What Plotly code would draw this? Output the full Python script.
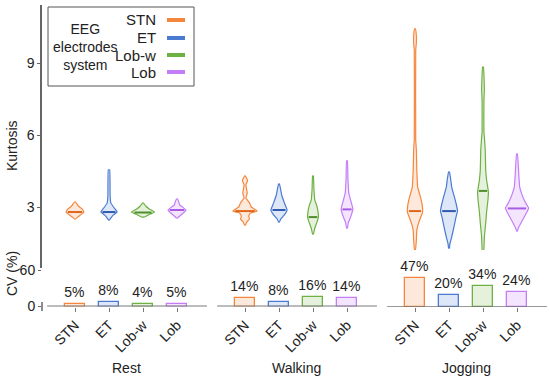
import numpy as np
import plotly.graph_objects as go

# ---------------- data ----------------
conditions = ["Rest", "Walking", "Jogging"]
electrodes = ["STN", "ET", "Lob-w", "Lob"]

# coefficient of variation (%) per electrode system
cv_rest = [5, 8, 4, 5]
cv_walking = [14, 8, 16, 14]
cv_jogging = [47, 20, 34, 24]

# violin profiles: kurtosis levels (top -> bottom) and relative density (half width)
k_rest_stn = [3.21, 3.08, 3.0, 2.92, 2.79, 2.67, 2.58, 2.5]
d_rest_stn = [0.5, 3, 5, 8, 10, 6, 3, 0.5]
k_rest_et = [4.54, 3.5, 3.17, 3.0, 2.83, 2.79, 2.67, 2.54, 2.46]
d_rest_et = [0.8, 1.2, 2, 5, 8.5, 9, 5, 2, 0.5]
k_rest_lobw = [3.17, 3.04, 2.92, 2.79, 2.67, 2.58]
d_rest_lobw = [0.5, 3, 7, 13, 6, 1]
k_rest_lob = [3.33, 3.21, 3.08, 3.0, 2.875, 2.75, 2.625, 2.54]
d_rest_lob = [0.5, 2, 3, 6, 10, 7, 3, 0.5]

k_walk_stn = [4.29, 4.1, 3.92, 3.58, 3.375, 3.17, 3.0, 2.83, 2.75, 2.625, 2.5, 2.375, 2.25]
d_walk_stn = [0.5, 3, 1, 2.5, 1, 5, 7, 13.5, 6, 4, 5, 2, 0.5]
k_walk_et = [3.96, 3.5, 3.17, 2.875, 2.67, 2.5, 2.375]
d_walk_et = [0.5, 3, 6, 9, 6, 2, 0.5]
k_walk_lobw = [4.29, 3.75, 3.29, 3.08, 2.83, 2.58, 2.33, 2.125, 1.875]
d_walk_lobw = [0.5, 1, 2, 4, 5.5, 6, 4, 2, 0.5]
k_walk_lob = [4.92, 4.2, 3.58, 3.29, 2.92, 2.58, 2.35, 2.125]
d_walk_lob = [0.5, 1, 2, 4, 6.5, 4, 1.5, 0.5]

k_jog_stn = [10.42, 10.125, 9.83, 9.54, 5.79, 5.375, 4.54, 3.83, 3.42, 3.08, 2.79, 2.54, 2.33, 2.04, 1.625, 1.21]
d_jog_stn = [0.5, 1.5, 1.5, 0.8, 0.8, 1.5, 2, 3, 6, 8, 8.5, 6, 4, 2, 1.5, 0.5]
k_jog_et = [4.46, 4.125, 3.83, 3.42, 3.125, 2.83, 2.54, 2.25, 1.75, 1.46, 1.29]
d_jog_et = [0.5, 2, 3, 6, 8, 9.5, 7.5, 6, 3, 1, 0.5]
k_jog_lobw = [8.83, 7.875, 7.46, 6.125, 5.92, 5.375, 4.54, 4.125, 3.625, 3.29, 2.79, 2.33, 1.75, 1.21, 0.92]
d_jog_lobw = [0.5, 1.5, 1, 1, 1.5, 2.5, 3, 4, 6, 5.5, 4, 3, 1.5, 1, 0.5]
k_jog_lob = [5.21, 4.33, 3.83, 3.58, 3.29, 3.08, 2.96, 2.79, 2.58, 2.375, 2.125, 2.0]
d_jog_lob = [0.5, 2, 3, 5, 8, 11, 13, 11, 8, 5, 1.5, 0.5]

median_rest = [2.79, 2.79, 2.77, 2.875]
median_walking = [2.83, 2.875, 2.58, 2.9]
median_jogging = [2.83, 2.83, 3.67, 2.94]

# ---------------- styling ----------------
FONT = "Arial, Liberation Sans, sans-serif"
line_colors = ["#F5873D", "#4A7BD1", "#6DB043", "#C47DF8"]
fill_colors = ["rgba(245,135,61,0.18)", "rgba(74,123,209,0.18)",
               "rgba(109,176,67,0.18)", "rgba(196,125,248,0.20)"]
median_colors = ["#E0661A", "#2F5BB0", "#4F8F2C", "#A95BE6"]
W, H = 550, 379
DSCALE = 0.9 / 34.0   # density -> x units

profiles = [
    [(k_rest_stn, d_rest_stn), (k_rest_et, d_rest_et), (k_rest_lobw, d_rest_lobw), (k_rest_lob, d_rest_lob)],
    [(k_walk_stn, d_walk_stn), (k_walk_et, d_walk_et), (k_walk_lobw, d_walk_lobw), (k_walk_lob, d_walk_lob)],
    [(k_jog_stn, d_jog_stn), (k_jog_et, d_jog_et), (k_jog_lobw, d_jog_lobw), (k_jog_lob, d_jog_lob)],
]
medians = [median_rest, median_walking, median_jogging]
cvs = [cv_rest, cv_walking, cv_jogging]

fig = go.Figure()

all_pos, all_lab = [], []
for gi, cond in enumerate(conditions):
    for ei, el in enumerate(electrodes):
        p = gi * 5 + ei
        all_pos.append(p)
        all_lab.append(el)
        ks, ds = profiles[gi][ei]
        ys = list(ks) + list(ks[::-1]) + [ks[0]]
        xs = [p + d * DSCALE for d in ds] + [p - d * DSCALE for d in ds[::-1]] + [p + ds[0] * DSCALE]
        fig.add_trace(go.Scatter(x=xs, y=ys, mode="lines", fill="toself",
                                 fillcolor=fill_colors[ei],
                                 line=dict(color=line_colors[ei], width=1.2, shape="spline", smoothing=0.25),
                                 xaxis="x", yaxis="y", showlegend=False, hoverinfo="skip"))
        m = medians[gi][ei]
        hw = np.interp(m, ks[::-1], ds[::-1]) * DSCALE * 0.8
        fig.add_trace(go.Scatter(x=[p - hw, p + hw], y=[m, m], mode="lines",
                                 line=dict(color=median_colors[ei], width=2),
                                 xaxis="x", yaxis="y", showlegend=False, hoverinfo="skip"))
    fig.add_trace(go.Bar(x=[gi * 5 + ei for ei in range(4)], y=cvs[gi],
                         width=0.56, marker=dict(color=fill_colors, line=dict(color=line_colors, width=1.3)),
                         text=[f"{v}%" for v in cvs[gi]], textposition="outside", constraintext="none",
                         textfont=dict(size=14, color="#222", family=FONT),
                         cliponaxis=False, xaxis="x", yaxis="y2", showlegend=False, hoverinfo="skip"))

# axis geometry (pixels -> paper)
x_left_px = 42
xr = [(x_left_px - 75) / 34.0, (W - 75) / 34.0]
top_dom = [(H - 268) / H, (H - 5) / H]
top_rng = [3 - (268 - 207) / 24.0, 3 + (207 - 5) / 24.0]
bot_dom = [(H - 306.5) / H, (H - 250) / H]
bot_rng = [0, (306.5 - 250) / 0.6]

fig.update_layout(
    width=W, height=H, margin=dict(l=0, r=0, t=0, b=0, pad=0, autoexpand=False),
    paper_bgcolor="white", plot_bgcolor="white",
    font=dict(family=FONT, size=14, color="#222"),
    bargap=0,
    xaxis=dict(domain=[x_left_px / W, 1], range=xr, anchor="y2", automargin=False,
               tickvals=all_pos, ticktext=all_lab, tickangle=-45,
               ticks="outside", ticklen=4, tickcolor="#777", tickwidth=1,
               showline=False, showgrid=False, zeroline=False,
               tickfont=dict(size=14, color="#222")),
    yaxis=dict(domain=top_dom, range=top_rng, anchor="x", automargin=False,
               tickvals=[3, 6, 9], ticks="outside", ticklen=3, tickcolor="#666",
               showline=True, linecolor="#666", linewidth=1.5,
               showgrid=False, zeroline=False, tickfont=dict(size=14, color="#222")),
    yaxis2=dict(domain=bot_dom, range=bot_rng, anchor="x", automargin=False,
                tickvals=[0, 60], ticks="outside", ticklen=3, tickcolor="#666",
                showline=False, showgrid=False, zeroline=False,
                tickfont=dict(size=14, color="#222")),
)

shapes = []
# bottom axis line segments per condition
seg_styles = [("#7a7a7a", 2), ("#7a7a7a", 2), ("#333", 1.2)]
for gi in range(3):
    shapes.append(dict(type="line", xref="x", yref="y2", x0=gi * 5 - 0.82, x1=gi * 5 + 3.88,
                       y0=0, y1=0, line=dict(color=seg_styles[gi][0], width=seg_styles[gi][1])))
# short vertical tick at CV zero
shapes.append(dict(type="line", xref="paper", yref="paper", x0=x_left_px / W, x1=x_left_px / W,
                   y0=(H - 311) / H, y1=(H - 302) / H, line=dict(color="#666", width=1.5)))
# legend box
shapes.append(dict(type="rect", xref="paper", yref="paper", x0=48 / W, x1=194 / W,
                   y0=(H - 86) / H, y1=(H - 7) / H, line=dict(color="#555", width=1), fillcolor="white"))
leg_y = [20, 38, 55, 72]
for ei in range(4):
    shapes.append(dict(type="line", xref="paper", yref="paper", x0=167 / W, x1=185 / W,
                       y0=(H - leg_y[ei]) / H, y1=(H - leg_y[ei]) / H,
                       line=dict(color=line_colors[ei], width=4)))
fig.update_layout(shapes=shapes)

ann = []
for ei, el in enumerate(electrodes):
    ann.append(dict(text=el, xref="paper", yref="paper", x=158 / W, y=(H - leg_y[ei]) / H,
                    xanchor="right", yanchor="middle", showarrow=False, font=dict(size=15, color="#222")))
ann.append(dict(text="EEG<br>electrodes<br>system", xref="paper", yref="paper", x=85 / W, y=(H - 47) / H,
                xanchor="center", yanchor="middle", showarrow=False, align="center",
                font=dict(size=14, color="#222")))
ann.append(dict(text="Kurtosis", xref="paper", yref="paper", x=12 / W, y=(H - 146) / H, textangle=-90,
                xanchor="center", yanchor="middle", showarrow=False, font=dict(size=14, color="#222")))
ann.append(dict(text="CV (%)", xref="paper", yref="paper", x=12 / W, y=(H - 274) / H, textangle=-90,
                xanchor="center", yanchor="middle", showarrow=False, font=dict(size=14, color="#222")))
for gi, cond in enumerate(conditions):
    ann.append(dict(text=cond, xref="x", yref="paper", x=gi * 5 + 1.5, y=(H - 368) / H,
                    xanchor="center", yanchor="middle", showarrow=False, font=dict(size=14, color="#222")))
fig.update_layout(annotations=ann)

fig.write_html("out.html", config={"responsive": False, "displayModeBar": False},
               post_script="document.body.style.margin='0';document.body.style.overflow='hidden';")
